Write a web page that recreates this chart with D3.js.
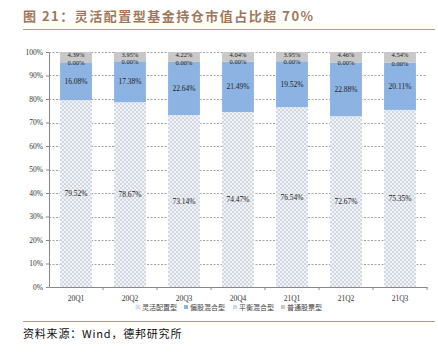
<!DOCTYPE html>
<html>
<head>
<meta charset="utf-8">
<script src="https://cdn.jsdelivr.net/npm/d3@7"></script>
<style>
  body { margin: 0; background: #fff; }
  svg text { font-family: "Liberation Serif", "Noto Sans CJK SC", serif; }
</style>
</head>
<body>
<div id="chart"></div>
<script>
// data
var quarters = ["20Q1", "20Q2", "20Q3", "20Q4", "21Q1", "21Q2", "21Q3"];
var seriesNames = ["灵活配置型", "偏股混合型", "平衡混合型", "普通股票型"];
var flexible = [79.52, 78.67, 73.14, 74.47, 76.54, 72.67, 75.35];
var partialStock = [16.08, 17.38, 22.64, 21.49, 19.52, 22.88, 20.11];
var balanced = [0, 0, 0, 0, 0, 0, 0];
var stock = [4.39, 3.95, 4.22, 4.04, 3.95, 4.46, 4.54];
var yTicks = [0, 10, 20, 30, 40, 50, 60, 70, 80, 90, 100];

var width = 438, height = 353;
var margin = {top: 52, left: 49, right: 11, bottom: 66};
var plotW = width - margin.left - margin.right,
    plotH = height - margin.top - margin.bottom;

var svg = d3.select("#chart")
    .append("svg")
    .attr("width", width)
    .attr("height", height);

// crosshatch pattern for the flexible series
var defs = svg.append("defs");
var pat = defs.append("pattern")
    .attr("id", "hatch")
    .attr("patternUnits", "userSpaceOnUse")
    .attr("width", 4)
    .attr("height", 4);
pat.append("rect").attr("width", 4).attr("height", 4).attr("fill", "#f1f3f7");
pat.append("path").attr("d", "M0,0 L4,4 M4,0 L0,4")
    .attr("stroke", "#c9d0dc").attr("stroke-width", 0.8);

var colors = ["url(#hatch)", "#8db3e2", "#c6d9f1", "#c8c8c8"];

// title
svg.append("text")
    .attr("x", 23).attr("y", 21)
    .attr("fill", "#a0775a")
    .style("font-family", "'Noto Sans CJK SC', sans-serif")
    .style("font-weight", "bold")
    .style("font-size", "13px")
    .style("letter-spacing", "1.5px")
    .text("图 21：灵活配置型基金持仓市值占比超 70%");
svg.append("line")
    .attr("x1", 23).attr("x2", 435).attr("y1", 29.5).attr("y2", 29.5)
    .attr("stroke", "#b89a7c").attr("stroke-width", 1);

var g = svg.append("g").attr("transform", "translate(" + margin.left + "," + margin.top + ")");

// scales
var x = d3.scaleBand().domain(quarters).range([0, plotW]).paddingInner(0.41).paddingOuter(0.205);
var y = d3.scaleLinear().domain([0, 100]).range([plotH, 0]);

// grid
g.selectAll(".grid")
    .data(yTicks.filter(d => d > 0))
    .enter().append("line")
    .attr("x1", 0).attr("x2", plotW)
    .attr("y1", d => Math.round(y(d)) + 0.5).attr("y2", d => Math.round(y(d)) + 0.5)
    .attr("stroke", "#8c8c8c").attr("stroke-width", 0.8)
    .attr("stroke-dasharray", "2,1.5");

// stack
var rows = quarters.map((q, i) => ({
    q: q, s0: flexible[i], s1: partialStock[i], s2: balanced[i], s3: stock[i]
}));
var stacked = d3.stack().keys(["s0", "s1", "s2", "s3"])(rows);

var layers = g.selectAll(".layer")
    .data(stacked)
    .enter().append("g")
    .attr("fill", (d, i) => colors[i]);
layers.selectAll("rect")
    .data(d => d)
    .enter().append("rect")
    .attr("x", d => x(d.data.q))
    .attr("width", x.bandwidth())
    .attr("y", d => y(d[1]))
    .attr("height", d => y(d[0]) - y(d[1]));

// labels
function labelY(d, li) {
    if (li == 2) return y(d[0]) + 3;        // zero segment, sits on top of blue
    if (li == 3) return y(d[1]) + 5;        // thin grey segment
    return y((d[0] + d[1]) / 2) + 2.5;
}
stacked.forEach((layer, li) => {
    g.selectAll(".lab" + li)
        .data(layer)
        .enter().append("text")
        .attr("x", d => x(d.data.q) + x.bandwidth() / 2)
        .attr("y", d => labelY(d, li))
        .attr("text-anchor", "middle")
        .style("font-size", li >= 2 ? "6.5px" : "7.5px")
        .attr("fill", "#222")
        .text(d => (d[1] - d[0]).toFixed(2) + "%");
});

// axes
var yAxis = g.append("g")
    .call(d3.axisLeft(y).tickValues(yTicks).tickFormat(d => d + "%").tickSize(3).tickSizeOuter(0));
yAxis.select(".domain").attr("stroke", "#888");
yAxis.selectAll(".tick line").attr("stroke", "#888");
yAxis.selectAll("text").style("font-size", "7.5px").attr("fill", "#333").attr("x", -6);

var xAxis = g.append("g")
    .attr("transform", "translate(0," + plotH + ")")
    .call(d3.axisBottom(x).tickSize(0).tickSizeOuter(0));
xAxis.select(".domain").attr("stroke", "#888");
xAxis.selectAll("text").style("font-size", "7.5px").attr("fill", "#333").attr("dy", "1.5em");
// tick marks between bands
g.selectAll(".xtick")
    .data(quarters)
    .enter().append("line")
    .attr("x1", d => x(d) - x.step() * x.paddingInner() / 2 + x.step())
    .attr("x2", d => x(d) - x.step() * x.paddingInner() / 2 + x.step())
    .attr("y1", plotH).attr("y2", plotH + 3)
    .attr("stroke", "#888");

// legend
var legendX = [136, 184, 233, 281];
var legend = svg.selectAll(".legend")
    .data(seriesNames)
    .enter().append("g")
    .attr("transform", (d, i) => "translate(" + legendX[i] + ",309)");
legend.append("rect")
    .attr("x", 0).attr("y", -4).attr("width", 4).attr("height", 4)
    .attr("fill", (d, i) => colors[i])
    .attr("stroke", (d, i) => i == 0 ? "#c9d0dc" : "none").attr("stroke-width", 0.5);
legend.append("text")
    .attr("x", 6).attr("y", 0.5)
    .style("font-size", "7px")
    .attr("fill", "#444")
    .text(d => d);

// source
svg.append("line")
    .attr("x1", 23).attr("x2", 435).attr("y1", 321.5).attr("y2", 321.5)
    .attr("stroke", "#b89a7c").attr("stroke-width", 1.2);
svg.append("text")
    .attr("x", 23).attr("y", 338)
    .attr("fill", "#111")
    .style("font-family", "'Noto Sans CJK SC', sans-serif")
    .style("font-size", "11px")
    .style("letter-spacing", "0.8px")
    .text("资料来源：Wind，德邦研究所");
</script>
</body>
</html>
